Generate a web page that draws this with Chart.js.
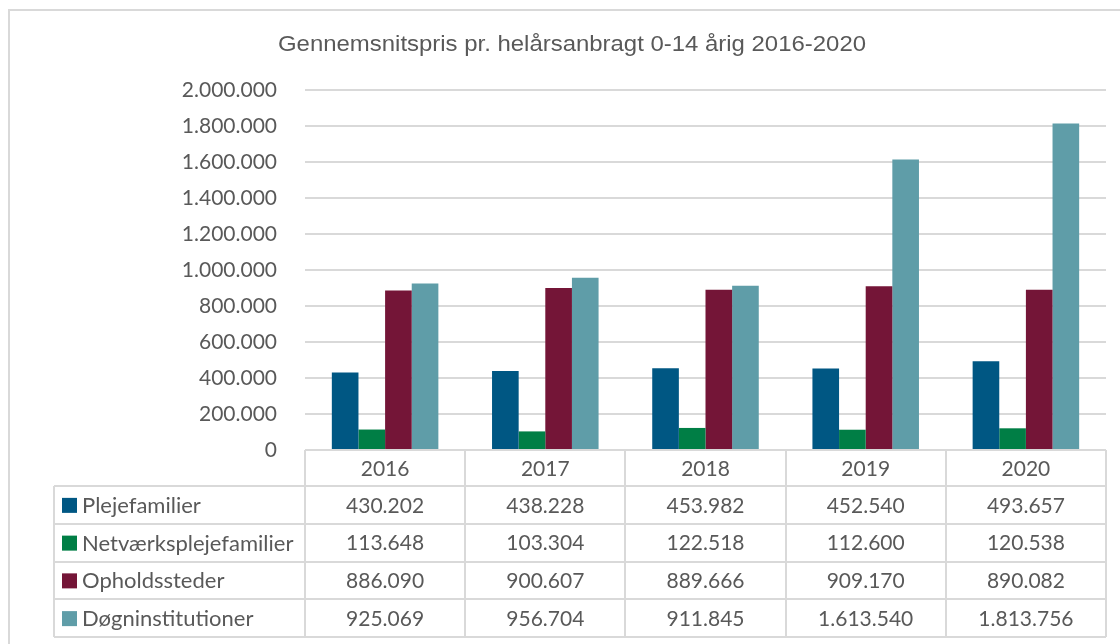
<!DOCTYPE html>
<html>
<head>
<meta charset="utf-8">
<script src="https://cdn.jsdelivr.net/npm/chart.js@4"></script>
<style>
  html, body { margin: 0; padding: 0; background: #fff; }
  #wrap { position: relative; width: 1120px; height: 644px; overflow: hidden; }
  #frame { position: absolute; left: 8px; top: 9px; width: 1140px; height: 700px;
           border: 2px solid #d9d9d9; box-sizing: border-box; }
  canvas { position: absolute; left: 0; top: 0; }
</style>
</head>
<body>
<div id="wrap">
  <div id="frame"></div>
  <canvas id="chart" width="1120" height="644"></canvas>
</div>
<script>
// data
const years = ['2016', '2017', '2018', '2019', '2020'];
const seriesNames = ['Plejefamilier', 'Netværksplejefamilier', 'Opholdssteder', 'Døgninstitutioner'];
const plejefamilier = [430202, 438228, 453982, 452540, 493657];
const netvaerk = [113648, 103304, 122518, 112600, 120538];
const opholdssteder = [886090, 900607, 889666, 909170, 890082];
const doegninst = [925069, 956704, 911845, 1613540, 1813756];
const colors = ['#005783', '#007E45', '#741537', '#5F9DA8'];
const chartTitle = 'Gennemsnitspris pr. helårsanbragt 0-14 årig 2016-2020';

const textColor = '#595959';
const lineColor = '#d9d9d9';
const font = 'Lato, "Open Sans", sans-serif';

// danish thousand separator
function fmt(v) {
  return String(v).replace(/\B(?=(\d{3})+(?!\d))/g, '.');
}

const allSeries = [plejefamilier, netvaerk, opholdssteder, doegninst];

// draws the title and the data table under the x axis
const tablePlugin = {
  id: 'dataTable',
  afterDraw(chart) {
    const ctx = chart.ctx;
    const xs = chart.scales.x;
    const area = chart.chartArea;
    const colW = xs.width / years.length;
    const top = area.bottom;
    const headH = 36;
    const rowH = 37.75;
    const legLeft = 54;

    ctx.save();

    // title (the original is a bit wider than plain Arial)
    ctx.fillStyle = textColor;
    ctx.font = '22px "Liberation Sans", Arial, sans-serif';
    ctx.textAlign = 'center';
    ctx.textBaseline = 'middle';
    const tw = ctx.measureText(chartTitle).width;
    ctx.save();
    ctx.translate(572, 45);
    ctx.scale(588 / tw, 1);
    ctx.fillText(chartTitle, 0, 0);
    ctx.restore();

    ctx.font = '21px ' + font;

    // header row with years
    years.forEach((y, i) => {
      ctx.fillText(y, xs.getPixelForValue(i), top + headH / 2 + 1);
    });

    // body rows
    allSeries.forEach((data, r) => {
      const yMid = top + headH + rowH * r + rowH / 2 + 1;
      ctx.fillStyle = colors[r];
      ctx.fillRect(62, yMid - 8, 15, 15);
      ctx.fillStyle = textColor;
      ctx.textAlign = 'left';
      ctx.font = '22px ' + font;
      ctx.fillText(seriesNames[r], 82, yMid);
      ctx.font = '21px ' + font;
      ctx.textAlign = 'center';
      data.forEach((v, i) => {
        ctx.fillText(fmt(v), xs.getPixelForValue(i), yMid);
      });
    });

    // grid lines of the table
    ctx.strokeStyle = lineColor;
    ctx.lineWidth = 2;
    const bottom = top + headH + rowH * allSeries.length;
    ctx.beginPath();
    ctx.moveTo(area.left, top);
    ctx.lineTo(area.right, top);
    for (let r = 0; r <= allSeries.length; r++) {
      const y = Math.round(top + headH + rowH * r);
      ctx.moveTo(legLeft, y);
      ctx.lineTo(area.right, y);
    }
    ctx.moveTo(legLeft, top + headH);
    ctx.lineTo(legLeft, bottom);
    for (let i = 0; i <= years.length; i++) {
      const x = Math.round(area.left + colW * i);
      ctx.moveTo(x, top);
      ctx.lineTo(x, bottom);
    }
    ctx.stroke();
    ctx.restore();
  }
};

new Chart(document.getElementById('chart'), {
  type: 'bar',
  data: {
    labels: years,
    datasets: seriesNames.map((name, i) => ({
      label: name,
      data: allSeries[i],
      backgroundColor: colors[i],
      borderWidth: 0,
      categoryPercentage: 0.665,
      barPercentage: 1.0
    }))
  },
  options: {
    responsive: false,
    animation: false,
    layout: { padding: { left: 0, right: 14, top: 90, bottom: 194 } },
    plugins: {
      legend: { display: false },
      title: { display: false },
      tooltip: { enabled: false }
    },
    scales: {
      x: {
        display: false
      },
      y: {
        min: 0,
        max: 2000000,
        afterFit(scale) { scale.width = 305; },
        border: { display: false },
        grid: { color: lineColor, lineWidth: 2, drawTicks: false },
        ticks: {
          stepSize: 200000,
          padding: 28,
          color: textColor,
          font: { family: font, size: 21 },
          callback: v => fmt(v)
        }
      }
    }
  },
  plugins: [tablePlugin]
});
</script>
</body>
</html>
